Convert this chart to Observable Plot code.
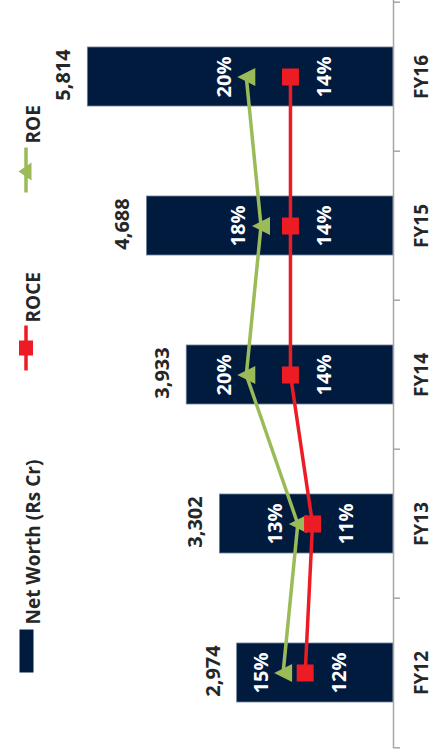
<!DOCTYPE html>
<html>
<head>
<meta charset="utf-8">
<script src="https://cdn.jsdelivr.net/npm/d3@7"></script>
<script src="https://cdn.jsdelivr.net/npm/@observablehq/plot@0.6"></script>
<style>
  html, body { margin: 0; padding: 0; background: #fff; }
  #chart svg { display: block; }
</style>
</head>
<body>
<div id="chart"></div>
<script>
// Net worth (Rs Cr) with ROCE and ROE (%), FY12–FY16
const years = ["FY12", "FY13", "FY14", "FY15", "FY16"];
const netWorth = [2974, 3302, 3933, 4688, 5814];
const roce = [12, 11, 14, 14, 14];
const roe = [15, 13, 20, 18, 20];

// Axis maxima: primary axis in Rs Cr, secondary axis in %
const netWorthMax = 7000;
const pctMax = 50;

const rows = years.map((year, i) => ({year, netWorth: netWorth[i], roce: roce[i], roe: roe[i]}));
// place a percentage on the primary (Rs Cr) axis via the secondary-axis ratio
const onPrimary = (pct) => pct / pctMax * netWorthMax;

const W = 433, H = 750;
const margin = {top: 0, right: 40, bottom: 2, left: 25};
const step = (H - margin.top - margin.bottom) / years.length;

const navy = "#011b3f", green = "#9bbb59", red = "#ed1c24", ink = "#262626", axisGray = "#a6a6a6";
const font = "'Open Sans', 'DejaVu Sans', sans-serif";

// Symbols are drawn in pixel units (use with r: 1, so size = π)
const unit = (size) => Math.sqrt(size / Math.PI);
const triangleLeft = {
  draw(ctx, size) {
    const r = 9 * unit(size);
    ctx.moveTo(-r, 0);
    ctx.lineTo(r, -r);
    ctx.lineTo(r, r);
    ctx.closePath();
  }
};
const squareSym = {
  draw(ctx, size) {
    const r = 8.5 * unit(size);
    ctx.rect(-r, -r, 2 * r, 2 * r);
  }
};
// legend keys (vertical line segment with its marker)
const keyBar = {
  draw(ctx, size) {
    const u = unit(size);
    ctx.rect(-7 * u, -21.5 * u, 14 * u, 43 * u);
  }
};
const keyRoce = {
  draw(ctx, size) {
    const u = unit(size);
    ctx.rect(-1.75 * u, -22.5 * u, 3.5 * u, 45 * u);
    ctx.rect(-7 * u, -7.5 * u, 14 * u, 15 * u);
  }
};
const keyRoe = {
  draw(ctx, size) {
    const u = unit(size);
    ctx.rect(-1.75 * u, -22.5 * u, 3.5 * u, 45 * u);
    ctx.moveTo(-7.5 * u, 1.5 * u);
    ctx.lineTo(5.5 * u, -7.5 * u);
    ctx.lineTo(5.5 * u, 10.5 * u);
    ctx.closePath();
  }
};

const legendItems = [
  {label: "Net Worth (Rs Cr)", symbol: keyBar, color: navy, keyX: 1, keyY: 650.5, textY: 624},
  {label: "ROCE", symbol: keyRoce, color: red, keyX: 0.5, keyY: 347.5, textY: 322},
  {label: "ROE", symbol: keyRoe, color: green, keyX: 0.5, keyY: 169.5, textY: 143}
];
const legendMarks = legendItems.flatMap((item) => [
  Plot.dot([item], {
    frameAnchor: "top-left", dx: item.keyX, dy: item.keyY,
    symbol: item.symbol, r: 1, fill: item.color, stroke: "none"
  }),
  Plot.text([item], {
    frameAnchor: "top-left", dx: 0.5, dy: item.textY, rotate: -90,
    text: (d) => d.label, textAnchor: "start",
    fontSize: 19, fontWeight: "bold", fill: ink
  })
]);

const chart = Plot.plot({
  width: W,
  height: H,
  marginTop: margin.top,
  marginRight: margin.right,
  marginBottom: margin.bottom,
  marginLeft: margin.left,
  style: {fontFamily: font, background: "#fff"},
  x: {domain: [0, netWorthMax], reverse: true, axis: null},
  y: {type: "band", domain: [...years].reverse(), padding: 0, axis: null},
  marks: [
    // net worth bars
    Plot.barX(rows, {
      y: "year", x: "netWorth",
      insetTop: 45, insetBottom: 45,
      fill: navy, stroke: "#6f7f99", strokeWidth: 0.8
    }),
    // category axis line and boundary ticks
    Plot.ruleX([0], {stroke: axisGray, strokeWidth: 1.5}),
    Plot.ruleY(years, {
      y: (d) => d, x1: () => 0, x2: () => 0, insetRight: -7,
      dy: -step / 2, stroke: axisGray, strokeWidth: 1.5
    }),
    Plot.ruleY([years[0]], {
      y: (d) => d, x1: () => 0, x2: () => 0, insetRight: -7,
      dy: step / 2, stroke: axisGray, strokeWidth: 1.5
    }),
    // category labels
    Plot.text(years, {
      y: (d) => d, x: () => 0, dx: 28, rotate: -90,
      text: (d) => d, fontSize: 19, fontWeight: "bold", fill: ink
    }),
    // net worth value labels
    Plot.text(rows, {
      y: "year", x: "netWorth", dx: -24, dy: -2, rotate: -90,
      text: (d) => d3.format(",")(d.netWorth), fontSize: 20, fontWeight: "bold", fill: ink
    }),
    // ROE line
    Plot.line(rows, {y: "year", x: (d) => onPrimary(d.roe), stroke: green, strokeWidth: 3.5}),
    Plot.dot(rows, {y: "year", x: (d) => onPrimary(d.roe), symbol: triangleLeft, r: 1, fill: green, stroke: "none"}),
    // ROCE line
    Plot.line(rows, {y: "year", x: (d) => onPrimary(d.roce), stroke: red, strokeWidth: 3.5}),
    Plot.dot(rows, {y: "year", x: (d) => onPrimary(d.roce), symbol: squareSym, r: 1, fill: red, stroke: "none"}),
    // percentage labels
    Plot.text(rows, {
      y: "year", x: (d) => onPrimary(d.roe), dx: -22, rotate: -90,
      text: (d) => `${d.roe}%`, fontSize: 20, fontWeight: "bold", fill: "#fff"
    }),
    Plot.text(rows, {
      y: "year", x: (d) => onPrimary(d.roce), dx: 34, rotate: -90,
      text: (d) => `${d.roce}%`, fontSize: 20, fontWeight: "bold", fill: "#fff"
    }),
    ...legendMarks
  ]
});

document.getElementById("chart").appendChild(chart);
</script>
</body>
</html>
